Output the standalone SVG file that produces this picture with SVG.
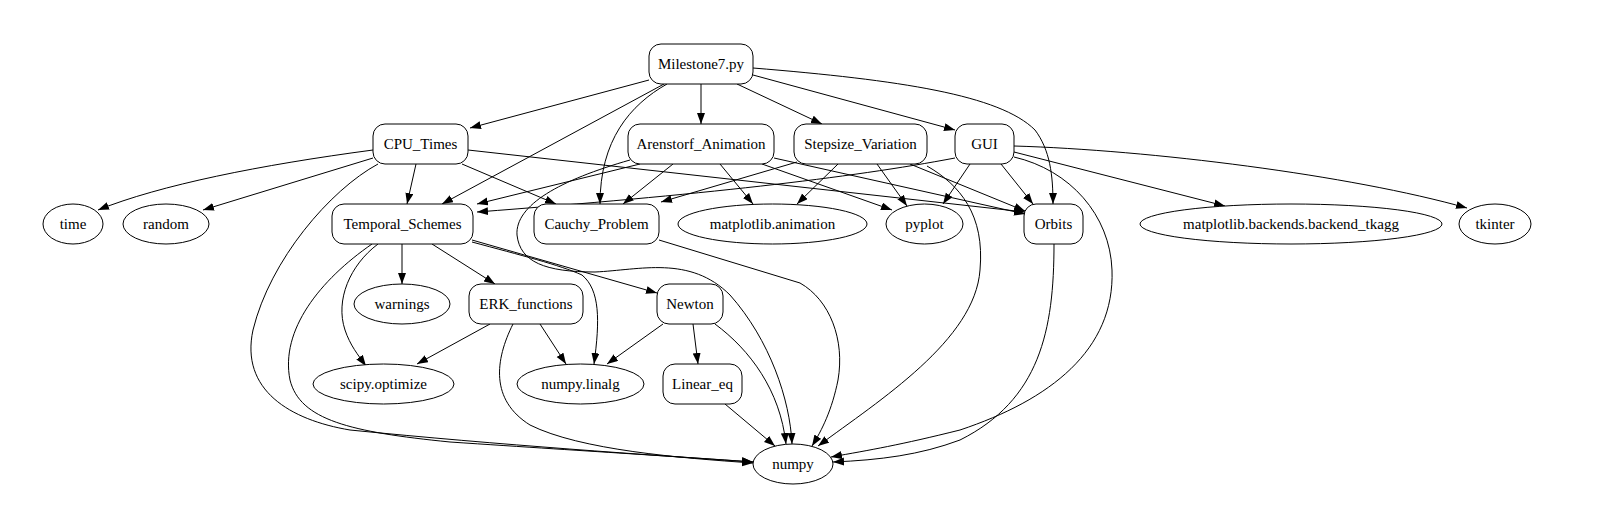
<svg xmlns="http://www.w3.org/2000/svg" width="1600" height="528" viewBox="0 0 1600 528">
<defs>
<marker id="arr" markerUnits="userSpaceOnUse" markerWidth="12" markerHeight="9" refX="11" refY="4" orient="auto">
<path d="M0,0 L11,4 L0,8 z" fill="#000"/>
</marker>
<style>
.e path{fill:none;stroke:#000;stroke-width:1;marker-end:url(#arr)}
.n rect,.n ellipse{fill:#fff;stroke:#000;stroke-width:1}
.n text{font-family:"Liberation Serif","Times New Roman",serif;font-size:15px;fill:#000;text-anchor:middle;dominant-baseline:central}
</style>
</defs>
<rect width="1600" height="528" fill="#fff"/>
<g id="edges" class="e">
<path d="M649,80 L470,128"/>
<path d="M664,84 L442,204"/>
<path d="M667,84 C630,105 600,140 600,204"/>
<path d="M701,84 L701,124"/>
<path d="M737,84 L822,124"/>
<path d="M753,75 L955,130"/>
<path d="M753,68 C900,80 1000,95 1035,130 C1050,150 1053,175 1053,204"/>
<path d="M373,150 C260,165 160,185 98,210"/>
<path d="M373,158 L203,210"/>
<path d="M416,164 L407,204"/>
<path d="M462,164 L556,204"/>
<path d="M468,150 L1025,212"/>
<path d="M378,164 C330,190 270,260 253,330 C240,390 290,420 350,430 C500,445 650,455 753,462"/>
<path d="M640,164 L477,204"/>
<path d="M673,164 L623,204"/>
<path d="M720,164 L753,204"/>
<path d="M762,164 L892,210"/>
<path d="M774,158 L1025,214"/>
<path d="M630,160 C560,180 515,205 517,235 C520,262 545,272 595,272 C640,270 690,255 730,295 C770,340 790,400 792,444"/>
<path d="M797,162 L661,202"/>
<path d="M838,164 L797,204"/>
<path d="M877,164 L907,206"/>
<path d="M910,164 L1025,211"/>
<path d="M927,166 C960,185 985,215 980,270 C975,340 880,400 818,446"/>
<path d="M955,158 C850,178 700,195 477,212"/>
<path d="M970,164 L943,204"/>
<path d="M1001,164 L1033,204"/>
<path d="M1014,152 L1225,206"/>
<path d="M1014,146 C1150,150 1350,175 1467,208"/>
<path d="M1014,157 C1070,170 1110,215 1112,270 C1115,350 1050,400 960,430 C900,445 870,450 831,457"/>
<path d="M1054,244 C1054,330 1040,400 960,440 C920,455 880,460 833,462"/>
<path d="M402,244 L402,284"/>
<path d="M432,244 L495,284"/>
<path d="M472,240 L657,293"/>
<path d="M472,242 C520,255 560,265 582,275 C600,290 600,320 594,364"/>
<path d="M378,244 C350,265 335,300 345,330 C350,345 358,355 366,366"/>
<path d="M372,244 C320,280 280,330 290,380 C300,420 350,432 450,442 C600,452 700,458 753,462"/>
<path d="M659,240 L800,283 C830,300 845,340 838,380 C832,410 822,430 812,446"/>
<path d="M490,324 L417,364"/>
<path d="M540,324 L566,364"/>
<path d="M513,324 C495,360 490,400 530,425 C580,450 680,458 753,463"/>
<path d="M663,324 L607,364"/>
<path d="M693,324 L698,364"/>
<path d="M715,324 C750,350 780,390 786,444"/>
<path d="M725,404 L775,446"/>
</g>
<g id="n_milestone" class="n"><rect x="649" y="44" width="104" height="40" rx="12"/><text x="701" y="64">Milestone7.py</text></g>
<g id="n_cpu" class="n"><rect x="373" y="124" width="95" height="40" rx="12"/><text x="420.5" y="144">CPU_Times</text></g>
<g id="n_arenstorf" class="n"><rect x="628" y="124" width="146" height="40" rx="12"/><text x="701" y="144">Arenstorf_Animation</text></g>
<g id="n_stepsize" class="n"><rect x="794" y="124" width="133" height="40" rx="12"/><text x="860.5" y="144">Stepsize_Variation</text></g>
<g id="n_gui" class="n"><rect x="955" y="124" width="59" height="40" rx="12"/><text x="984.5" y="144">GUI</text></g>
<g id="n_time" class="n"><ellipse cx="73" cy="224" rx="30" ry="20"/><text x="73" y="224">time</text></g>
<g id="n_random" class="n"><ellipse cx="166" cy="224" rx="43" ry="20"/><text x="166" y="224">random</text></g>
<g id="n_ts" class="n"><rect x="332" y="204" width="141" height="40" rx="12"/><text x="402.5" y="224">Temporal_Schemes</text></g>
<g id="n_cauchy" class="n"><rect x="534" y="204" width="125" height="40" rx="12"/><text x="596.5" y="224">Cauchy_Problem</text></g>
<g id="n_anim" class="n"><ellipse cx="772.5" cy="224" rx="94.5" ry="20"/><text x="772.5" y="224">matplotlib.animation</text></g>
<g id="n_pyplot" class="n"><ellipse cx="924.5" cy="224" rx="38.5" ry="20"/><text x="924.5" y="224">pyplot</text></g>
<g id="n_orbits" class="n"><rect x="1024" y="204" width="59" height="40" rx="12"/><text x="1053.5" y="224">Orbits</text></g>
<g id="n_tkagg" class="n"><ellipse cx="1291" cy="224" rx="151" ry="20"/><text x="1291" y="224">matplotlib.backends.backend_tkagg</text></g>
<g id="n_tkinter" class="n"><ellipse cx="1495" cy="224" rx="36" ry="20"/><text x="1495" y="224">tkinter</text></g>
<g id="n_warnings" class="n"><ellipse cx="402" cy="304" rx="48" ry="20"/><text x="402" y="304">warnings</text></g>
<g id="n_erk" class="n"><rect x="469" y="284" width="114" height="40" rx="12"/><text x="526" y="304">ERK_functions</text></g>
<g id="n_newton" class="n"><rect x="657" y="284" width="66" height="40" rx="12"/><text x="690" y="304">Newton</text></g>
<g id="n_scipy" class="n"><ellipse cx="383.5" cy="384" rx="70.5" ry="20"/><text x="383.5" y="384">scipy.optimize</text></g>
<g id="n_linalg" class="n"><ellipse cx="580.5" cy="384" rx="63.5" ry="20"/><text x="580.5" y="384">numpy.linalg</text></g>
<g id="n_lineareq" class="n"><rect x="663" y="364" width="79" height="40" rx="12"/><text x="702.5" y="384">Linear_eq</text></g>
<g id="n_numpy" class="n"><ellipse cx="793" cy="464" rx="40" ry="20"/><text x="793" y="464">numpy</text></g>
</svg>
